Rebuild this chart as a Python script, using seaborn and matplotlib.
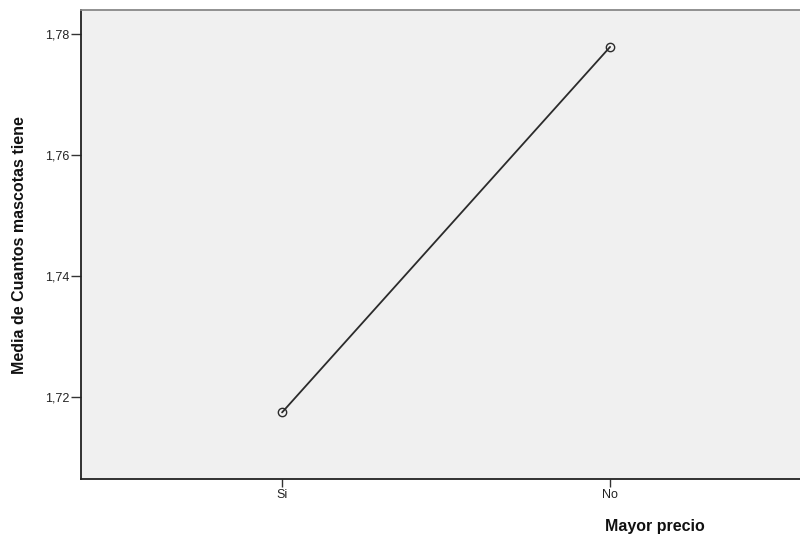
import matplotlib
matplotlib.use("Agg")
import matplotlib.pyplot as plt
import seaborn as sns
import pandas as pd
from matplotlib.ticker import FuncFormatter

# Mean number of pets by "Mayor precio" group
categories = ["Si", "No"]
means = [1.7174, 1.7778]
y_ticks = [1.72, 1.74, 1.76, 1.78]

df = pd.DataFrame({"Mayor precio": categories, "Media": means})

sns.set_theme(style="white")
plt.rcParams["font.family"] = ["Liberation Sans", "DejaVu Sans"]

fig = plt.figure(figsize=(8.0, 5.38), dpi=100)
ax = fig.add_axes([81 / 800, 1 - 479 / 538, 719 / 800, 469 / 538])
ax.set_facecolor("#F0F0F0")

sns.pointplot(
    data=df, x="Mayor precio", y="Media", order=categories,
    errorbar=None, color="#2B2B2B", markers="o", linestyles="-",
    markersize=6, markerfacecolor="none", markeredgewidth=1.0,
    linewidth=1.3, ax=ax,
)

ax.set_xlim(-0.613, 1.579)
ax.set_ylim(1.7064, 1.7839)
ax.set_yticks(y_ticks)
ax.yaxis.set_major_formatter(FuncFormatter(lambda v, p: f"{v:.2f}".replace(".", ",")))

ax.tick_params(axis="y", direction="out", length=7.5, width=1.0, color="#333333",
               labelsize=9, labelcolor="#222222", pad=1, left=True)
ax.tick_params(axis="x", direction="out", length=6, width=1.0, color="#333333",
               labelsize=9, labelcolor="#222222", pad=1, bottom=True)

for side in ["left", "bottom"]:
    ax.spines[side].set_color("#222222")
    ax.spines[side].set_linewidth(1.3)
ax.spines["top"].set_color("#888888")
ax.spines["top"].set_linewidth(1.3)
ax.spines["right"].set_visible(False)

ax.set_xlabel("Mayor precio", fontsize=11.5, fontweight="bold", color="#111111")
ax.set_ylabel("Media de Cuantos mascotas tiene", fontsize=11.5, fontweight="bold", color="#111111")
ax.xaxis.set_label_coords((655 - 81) / 719, (479 - 527) / 469)
ax.yaxis.set_label_coords((20 - 81) / 719, (479 - 245) / 469)
ax.xaxis.label.set_va("center")
ax.yaxis.label.set_va("center")

fig.savefig("out.png", dpi=100, facecolor="white")
